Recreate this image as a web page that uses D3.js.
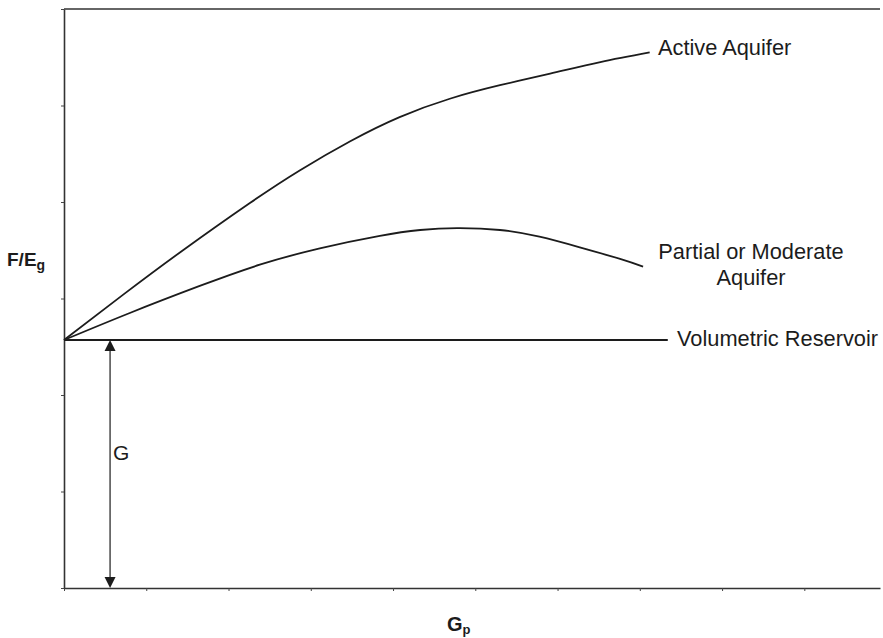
<!DOCTYPE html>
<html><head><meta charset="utf-8">
<script src="https://cdn.jsdelivr.net/npm/d3@7"></script>
<style>
html,body{margin:0;padding:0;background:#fff;}
svg{display:block;font-family:"Liberation Sans",Arial,sans-serif;}
</style></head>
<body>
<svg id="chart" width="883" height="638"></svg>
<script>
// Data
const xTicks = [0,1,2,3,4,5,6,7,8,9];
const yTicks = [0,1,2,3,4,5,6];
const G = 2.57;          // volumetric reservoir intercept
const arrowGp = 0.56;    // x position of the G arrow
const volumetricEnd = 7.34;

const activeGp  = [0, 0.72, 1.43, 2.26, 2.87, 3.48, 4.08, 4.69, 5.30, 5.91, 6.52, 7.12];
const activeFE  = [2.57, 3.04, 3.49, 3.99, 4.33, 4.63, 4.88, 5.07, 5.21, 5.33, 5.45, 5.55];
const partialGp = [0, 0.80, 1.65, 2.38, 3.11, 3.84, 4.33, 4.78, 5.30, 5.78, 6.27, 6.76, 7.04];
const partialFE = [2.57, 2.85, 3.13, 3.35, 3.52, 3.65, 3.71, 3.73, 3.71, 3.64, 3.53, 3.41, 3.33];

const svg = d3.select("#chart");
const x = d3.scaleLinear().domain([0, 9.92]).range([64, 880]);
const y = d3.scaleLinear().domain([0, 6]).range([588, 9]);
const ink = "#1c1c1c";

// axes
const xAxis = svg.append("g").attr("transform", `translate(0,${y(0)})`)
  .call(d3.axisBottom(x).tickValues(xTicks).tickSize(3).tickSizeOuter(0).tickFormat(""));
const yAxis = svg.append("g").attr("transform", `translate(${x(0)},0)`)
  .call(d3.axisLeft(y).tickValues(yTicks).tickSize(3).tickSizeOuter(0).tickFormat(""));
[xAxis, yAxis].forEach(a => {
  a.select(".domain").attr("stroke", "#333").attr("stroke-width", 1.6);
  a.selectAll(".tick line").attr("stroke", "#444").attr("stroke-width", 1);
});
// top frame line
svg.append("line").attr("x1", x(0)).attr("x2", x(9.92)).attr("y1", y(6)).attr("y2", y(6))
  .attr("stroke", "#333").attr("stroke-width", 1.6);

const line = d3.line().x(d => x(d[0])).y(d => y(d[1])).curve(d3.curveNatural);

svg.append("path").datum(activeGp.map((v,i)=>[v, activeFE[i]]))
  .attr("d", line).attr("fill", "none").attr("stroke", ink).attr("stroke-width", 1.8);
svg.append("path").datum(partialGp.map((v,i)=>[v, partialFE[i]]))
  .attr("d", line).attr("fill", "none").attr("stroke", ink).attr("stroke-width", 1.8);
svg.append("line").attr("x1", x(0)).attr("x2", x(volumetricEnd)).attr("y1", y(G)).attr("y2", y(G))
  .attr("stroke", ink).attr("stroke-width", 1.8);

// G arrow
const ax = x(arrowGp), aTop = y(G), aBot = y(0);
svg.append("line").attr("x1", ax).attr("x2", ax).attr("y1", aTop + 8).attr("y2", aBot - 8)
  .attr("stroke", ink).attr("stroke-width", 1.2);
svg.append("path").attr("d", `M${ax},${aTop} L${ax-5.5},${aTop+11} L${ax+5.5},${aTop+11} Z`).attr("fill", ink);
svg.append("path").attr("d", `M${ax},${aBot} L${ax-5.5},${aBot-11} L${ax+5.5},${aBot-11} Z`).attr("fill", ink);
svg.append("text").attr("x", ax + 3).attr("y", 460).attr("font-size", 21).attr("fill", ink).text("G");

// labels
const lab = (t, xx, yy, anchor) => svg.append("text").attr("x", xx).attr("y", yy)
  .attr("font-size", 21.8).attr("fill", ink).attr("text-anchor", anchor || "start").text(t);
lab("Active Aquifer", 658, 55);
lab("Partial or Moderate", 751, 259, "middle");
lab("Aquifer", 751, 285, "middle");
lab("Volumetric Reservoir", 677, 346);

// axis titles
const yt = svg.append("text").attr("x", 7).attr("y", 266).attr("font-size", 19).attr("font-weight", "bold").attr("fill", ink);
yt.append("tspan").text("F/E");
yt.append("tspan").attr("font-size", 14).attr("dy", 4).text("g");
const xt = svg.append("text").attr("x", 447).attr("y", 631).attr("font-size", 20).attr("font-weight", "bold").attr("fill", ink);
xt.append("tspan").text("G");
xt.append("tspan").attr("font-size", 13).attr("dy", 3).text("p");
</script>
</body></html>
